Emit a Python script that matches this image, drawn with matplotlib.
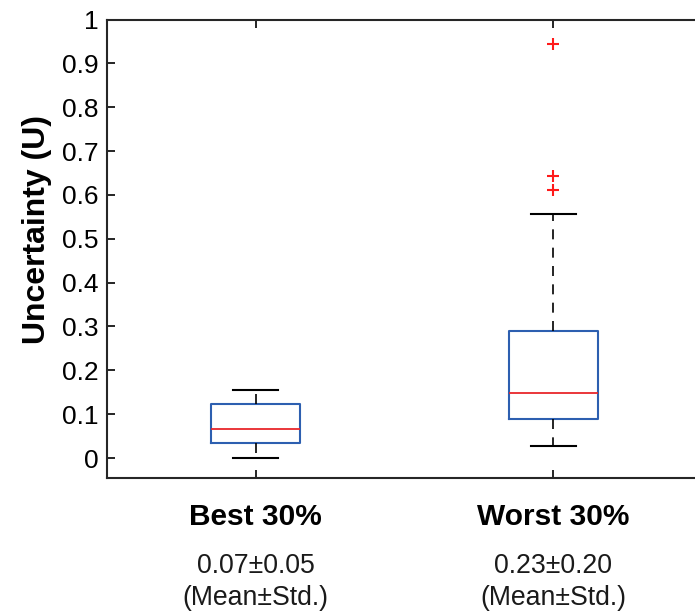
import matplotlib.pyplot as plt

plt.rcParams['font.family'] = ['Liberation Sans', 'DejaVu Sans']

groups = ['Best 30%', 'Worst 30%']
summaries = ['0.07±0.05\n(Mean±Std.)', '0.23±0.20\n(Mean±Std.)']
whislo = [0.0, 0.027]
q1 = [0.034, 0.089]
med = [0.066, 0.148]
q3 = [0.123, 0.290]
whishi = [0.155, 0.557]
outliers = [[], [0.612, 0.644, 0.943]]

stats = []
for i in range(len(groups)):
    stats.append(dict(label=groups[i], whislo=whislo[i], q1=q1[i], med=med[i],
                      q3=q3[i], whishi=whishi[i], fliers=outliers[i]))

fig = plt.figure(figsize=(6.95, 6.12), dpi=100)
ax = fig.add_axes([107 / 695, 1 - 478 / 612, 595 / 695, 458.5 / 612])

ax.bxp(stats, positions=[1, 2], widths=0.3,
       boxprops=dict(color='#2d5fb0', linewidth=1.5),
       medianprops=dict(color='#e8262b', linewidth=1.3),
       whiskerprops=dict(color='black', linestyle=(0, (6, 5)), linewidth=1.2),
       capprops=dict(color='black', linewidth=1.5),
       flierprops=dict(marker='+', markeredgecolor='#ff1a1a', markersize=9,
                       markeredgewidth=1.5, linestyle='none'))

ax.set_xlim(0.5, 2.5)
ax.set_ylim(-0.0455, 1.0)
ax.set_yticks([0, 0.1, 0.2, 0.3, 0.4, 0.5, 0.6, 0.7, 0.8, 0.9, 1])
ax.set_yticklabels(['0', '0.1', '0.2', '0.3', '0.4', '0.5', '0.6', '0.7', '0.8', '0.9', '1'])
ax.set_xticks([1, 2])
ax.set_xticklabels(groups, fontsize=21.5, fontweight='bold')
ax.tick_params(axis='y', direction='in', labelsize=19, length=6, width=1.2, pad=6)
ax.tick_params(axis='x', direction='in', length=6, width=1.2, pad=18, top=True)
ax.set_ylabel('Uncertainty (U)', fontsize=23, fontweight='bold')
ax.yaxis.set_label_coords(-0.092, 0.541)
for s in ax.spines.values():
    s.set_linewidth(1.5)
    s.set_color('#262626')

for i, txt in enumerate(summaries):
    ax.text(i + 1, -0.216, txt, ha='center', va='top', fontsize=19.2,
            linespacing=1.3, color='#1a1a1a', transform=ax.transData)

fig.savefig('out.png', dpi=100)
